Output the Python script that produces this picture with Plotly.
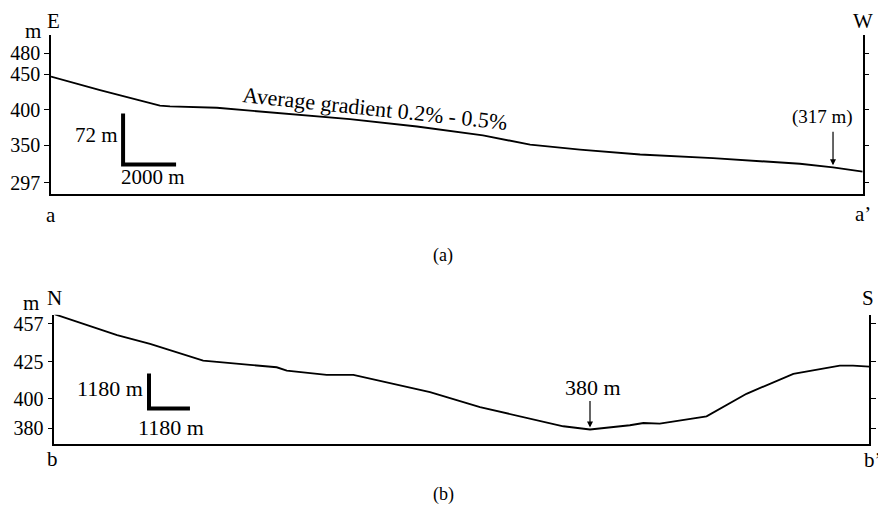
import plotly.graph_objects as go

# ---- data: profile a-a' (E -> W), distance km, elevation m
a_dist = [0, 1.85, 4.11, 4.49, 6.26, 8.75, 11.28, 13.81, 16.30, 18.08, 19.96, 22.23, 24.98, 28.26, 29.51, 30.63]
a_elev = [447, 428, 406, 405, 403, 395, 387, 376.5, 364, 351, 344, 337, 332, 324, 319, 313]
a_ticks = [297, 350, 400, 450, 480]
a_scale_x = [2.72, 2.72, 4.72]
a_scale_y = [395, 323, 323]

# ---- data: profile b-b' (N -> S)
b_dist = [0, 1.81, 2.76, 4.29, 5.64, 6.41, 6.70, 7.85, 8.62, 10.83, 12.27, 14.67, 15.44,
          16.59, 16.98, 17.45, 18.80, 19.95, 21.30, 22.64, 23.02, 23.49]
b_elev = [457.4, 443.2, 437.2, 425.9, 423, 421.4, 419.1, 416.2, 416.2, 404.5, 394.3, 381.3, 379.1,
          382, 383.5, 383.1, 388, 403.4, 416.9, 422.5, 422.5, 421.8]
b_tickvals = [380, 400, 425, 451]
b_ticktext = ["380", "400", "425", "457"]
b_scale_x = [2.73, 2.73, 3.91]
b_scale_y = [417.1, 393.4, 393.4]

OFF = 8  # page body margin
W, H = 886 - OFF, 508 - OFF
FONT = "Liberation Serif"


def P(px, py):
    return (px - OFF) / W, 1 - (py - OFF) / H


def dx(px):
    return (px - OFF) / W


def dy(py):
    return 1 - (py - OFF) / H


fig = go.Figure()
line = dict(color="black", width=1.9)
fig.add_trace(go.Scatter(x=a_dist, y=a_elev, mode="lines", line=line, xaxis="x", yaxis="y", hoverinfo="skip"))
fig.add_trace(go.Scatter(x=a_scale_x, y=a_scale_y, mode="lines", line=dict(color="black", width=4),
                         xaxis="x", yaxis="y", hoverinfo="skip"))
fig.add_trace(go.Scatter(x=b_dist, y=b_elev, mode="lines", line=line, xaxis="x2", yaxis="y2", hoverinfo="skip"))
fig.add_trace(go.Scatter(x=b_scale_x, y=b_scale_y, mode="lines", line=dict(color="black", width=4),
                         xaxis="x2", yaxis="y2", hoverinfo="skip"))

ax_common = dict(showgrid=False, zeroline=False, showline=True, linecolor="black", linewidth=1.5,
                 tickfont=dict(family=FONT, size=20, color="black"))

layout = dict(
    width=W, height=H, margin=dict(l=0, r=0, t=0, b=0),
    paper_bgcolor="white", plot_bgcolor="white", showlegend=False,
    font=dict(family=FONT, size=21, color="black"),
    xaxis=dict(domain=[dx(51), dx(862.7)], range=[a_dist[0], a_dist[-1]], anchor="y",
               showgrid=False, zeroline=False, showline=True, linecolor="black", linewidth=1.5,
               showticklabels=False, ticks=""),
    yaxis=dict(domain=[dy(193), dy(33)], range=[281, 505.8], anchor="x",
               tickvals=a_ticks, ticks="outside", ticklen=5, tickwidth=1.3, tickcolor="black",
               mirror="ticks", **ax_common),
    yaxis3=dict(overlaying="y", side="right", range=[281, 505.8], anchor="x",
                tickvals=a_ticks, ticks="inside", ticklen=4, tickwidth=1.3, tickcolor="black",
                showticklabels=False, showline=False, showgrid=False, zeroline=False),
    xaxis2=dict(domain=[dx(54.3), dx(869.3)], range=[b_dist[0], b_dist[-1]], anchor="y2",
                showgrid=False, zeroline=False, showline=True, linecolor="black", linewidth=1.5,
                showticklabels=False, ticks=""),
    yaxis2=dict(domain=[dy(443.3), dy(314)], range=[369.6, 457.0], anchor="x2",
                tickvals=b_tickvals, ticktext=b_ticktext, ticks="outside", ticklen=5, tickwidth=1.3,
                tickcolor="black", mirror="ticks", **ax_common),
    yaxis4=dict(overlaying="y2", side="right", range=[369.6, 457.0], anchor="x2",
                tickvals=b_tickvals, ticks="inside", ticklen=5, tickwidth=1.3, tickcolor="black",
                showticklabels=False, showline=False, showgrid=False, zeroline=False),
)
fig.update_layout(**layout)

anns = []


def txt(text, px, py, size=21, angle=0):
    x, y = P(px, py)
    anns.append(dict(text=text, x=x, y=y, xref="paper", yref="paper", showarrow=False,
                     xanchor="center", yanchor="middle", textangle=angle,
                     font=dict(family=FONT, size=size, color="black")))


txt("m", 33, 29, 21)
txt("E", 53, 19)
txt("W", 863, 19)
txt("a", 51, 214)
txt("a’", 863, 213)
txt("(a)", 443, 254, 18)
txt("Average gradient 0.2% - 0.5%", 375, 107, 22, 6)
txt("72 m", 96, 134)
txt("2000 m", 153, 176)
txt("(317 m)", 822, 115, 19)

txt("m", 31, 302, 21)
txt("N", 54, 297)
txt("S", 868, 297)
txt("b", 52, 459)
txt("b’", 873, 460)
txt("(b)", 443, 494, 18)
txt("1180 m", 110, 388, 22)
txt("1180 m", 171, 427, 22)
txt("380 m", 593, 387, 22)

# arrows pointing at profile points
i317 = 14
anns.append(dict(x=a_dist[i317], y=a_elev[i317], xref="x", yref="y", text="", showarrow=True,
                 ax=0, ay=-37, arrowhead=2, arrowsize=1, arrowwidth=1.2, arrowcolor="black", standoff=2))
imin = b_elev.index(min(b_elev))
anns.append(dict(x=b_dist[imin], y=b_elev[imin], xref="x2", yref="y2", text="", showarrow=True,
                 ax=0, ay=-30, arrowhead=2, arrowsize=1, arrowwidth=1.2, arrowcolor="black", standoff=2))
fig.update_layout(annotations=anns)

fig.write_html("out.html")
